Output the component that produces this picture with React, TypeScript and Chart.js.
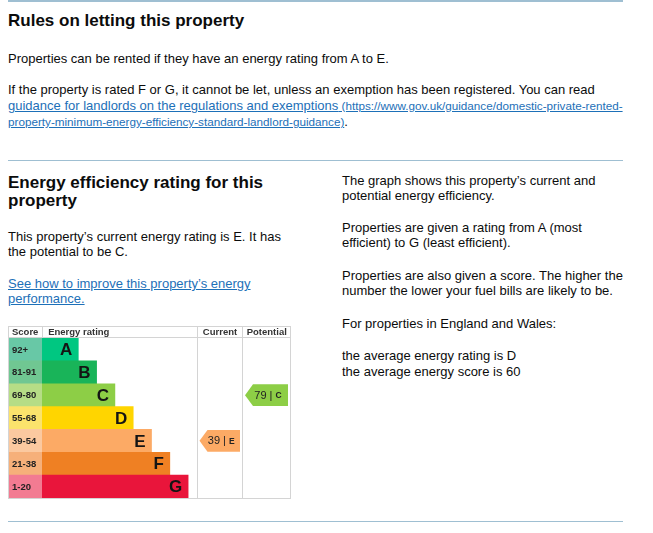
import React, { useEffect, useRef } from 'react';
import { Chart, registerables } from 'chart.js';

Chart.register(...registerables);

// ---- Data ----
const bands = ['A', 'B', 'C', 'D', 'E', 'F', 'G'];
const scoreRanges = ['92+', '81-91', '69-80', '55-68', '39-54', '21-38', '1-20'];
const barLengths = [2, 3, 4, 5, 6, 7, 8];
const barColors = ['#00c781', '#19b459', '#8dce46', '#ffd500', '#fcaa65', '#ef8023', '#e9153b'];
const scoreColors = ['#68c8a6', '#70c792', '#b6dd86', '#fbe36c', '#fbc9a0', '#f6b07a', '#f27b92'];
const headerLabels = ['Score', 'Energy rating', 'Current', 'Potential'];
const currentScore = 39;
const currentBand = 'E';
const potentialScore = 79;
const potentialBand = 'C';

// ---- Layout constants (scale units) ----
const SCORE_W = 1.84;
const CUR_START = 8.47;
const POT_START = 10.96;
const X_MAX = 13.62;

const FONT = "'Liberation Sans', Arial, Helvetica, sans-serif";
const LINK = '#1d70b8';
const TEXT = '#0b0c0c';

function EnergyChart() {
  const ref = useRef<HTMLCanvasElement | null>(null);
  useEffect(() => {
    if (!ref.current) return;
    const drawPlugin = {
      id: 'epcDecor',
      afterDatasetsDraw(chart: any) {
        const { ctx, chartArea, scales } = chart;
        const xs = scales.x;
        const ys = scales.y;
        const W = chart.width;
        const H = chart.height;
        ctx.save();
        ctx.strokeStyle = '#d4d4d4';
        ctx.lineWidth = 1;
        // outer border
        ctx.strokeRect(0.5, 0.5, W - 1, H - 1);
        // header bottom line
        ctx.beginPath();
        ctx.moveTo(0, Math.round(chartArea.top) - 0.5);
        ctx.lineTo(W, Math.round(chartArea.top) - 0.5);
        // separators
        const xSep = Math.round(xs.getPixelForValue(0)) + 0.5;
        ctx.moveTo(xSep, 0);
        ctx.lineTo(xSep, chartArea.top);
        const xCur = Math.round(xs.getPixelForValue(CUR_START)) + 0.5;
        const xPot = Math.round(xs.getPixelForValue(POT_START)) + 0.5;
        const xEnd = xs.getPixelForValue(X_MAX);
        ctx.moveTo(xCur, 0);
        ctx.lineTo(xCur, H);
        ctx.moveTo(xPot, 0);
        ctx.lineTo(xPot, H);
        ctx.stroke();

        // header labels
        const hy = chartArea.top / 2 + 0.5;
        ctx.fillStyle = '#333';
        ctx.font = `bold 9.5px ${FONT}`;
        ctx.textBaseline = 'middle';
        ctx.textAlign = 'left';
        ctx.fillText(headerLabels[0], 4, hy);
        ctx.fillText(headerLabels[1], xs.getPixelForValue(0) + 6.5, hy);
        ctx.textAlign = 'center';
        ctx.fillText(headerLabels[2], (xCur + xPot) / 2, hy);
        ctx.fillText(headerLabels[3], (xPot + xEnd) / 2, hy);

        // score range labels and band letters
        bands.forEach((b, i) => {
          const y = ys.getPixelForValue(i);
          ctx.textAlign = 'left';
          ctx.fillStyle = '#222';
          ctx.font = `bold 9.5px ${FONT}`;
          ctx.fillText(scoreRanges[i], 4, y + 0.5);
          ctx.textAlign = 'right';
          ctx.fillStyle = '#141414';
          ctx.font = `bold 17px ${FONT}`;
          ctx.fillText(b, xs.getPixelForValue(barLengths[i]) - 6, y + 1);
        });

        // arrows
        const drawArrow = (score: number, band: string, x0: number, x1: number) => {
          const i = bands.indexOf(band);
          const yc = ys.getPixelForValue(i);
          const half = (ys.getPixelForValue(1) - ys.getPixelForValue(0)) / 2 - 0.5;
          const tip = 8;
          ctx.fillStyle = barColors[i];
          ctx.beginPath();
          ctx.moveTo(x0, yc);
          ctx.lineTo(x0 + tip, yc - half);
          ctx.lineTo(x1, yc - half);
          ctx.lineTo(x1, yc + half);
          ctx.lineTo(x0 + tip, yc + half);
          ctx.closePath();
          ctx.fill();
          const parts = [
            { t: String(score), f: `11px ${FONT}` },
            { t: ' | ', f: `11px ${FONT}` },
            { t: band, f: `bold 8.5px ${FONT}` },
          ];
          let total = 0;
          parts.forEach((p) => {
            ctx.font = p.f;
            total += ctx.measureText(p.t).width;
          });
          let cx = (x0 + x1) / 2 + 1.5 - total / 2;
          ctx.textAlign = 'left';
          ctx.fillStyle = '#222';
          parts.forEach((p) => {
            ctx.font = p.f;
            ctx.fillText(p.t, cx, yc + 0.5);
            cx += ctx.measureText(p.t).width;
          });
        };
        drawArrow(currentScore, currentBand, xCur + 2, xPot - 2.5);
        drawArrow(potentialScore, potentialBand, xPot + 2.5, xEnd - 3);
        ctx.restore();
      },
    };

    const chart = new Chart(ref.current, {
      type: 'bar',
      data: {
        labels: bands,
        datasets: [
          {
            label: 'Score',
            data: bands.map(() => [-SCORE_W, 0]) as any,
            backgroundColor: scoreColors,
            borderWidth: 0,
            grouped: false,
            barPercentage: 1,
            categoryPercentage: 1,
          } as any,
          {
            label: 'Energy rating',
            data: barLengths.map((v) => [0, v]) as any,
            backgroundColor: barColors,
            borderWidth: 0,
            grouped: false,
            barPercentage: 1,
            categoryPercentage: 1,
          } as any,
        ],
      },
      options: {
        indexAxis: 'y',
        animation: false,
        responsive: false,
        maintainAspectRatio: false,
        devicePixelRatio: 1,
        layout: { padding: { top: 12, left: 0, right: 0, bottom: 1 } },
        plugins: { legend: { display: false }, tooltip: { enabled: false } },
        scales: {
          x: { type: 'linear', min: -SCORE_W, max: X_MAX, display: false },
          y: { type: 'category', display: false, offset: true, grid: { display: false } },
        },
      },
      plugins: [drawPlugin],
    });
    return () => chart.destroy();
  }, []);
  return (
    <canvas
      ref={ref}
      width={283}
      height={173}
      style={{ position: 'absolute', left: 8, top: 326, width: 283, height: 173 }}
    />
  );
}

type LineProps = { x: number; y: number; children: React.ReactNode; size?: number; bold?: boolean; color?: string; lh?: number };
function Line({ x, y, children, size = 13, bold = false, color = TEXT, lh = 16 }: LineProps) {
  return (
    <div
      style={{
        position: 'absolute',
        left: x,
        top: y,
        fontSize: size,
        lineHeight: `${lh}px`,
        fontWeight: bold ? 700 : 400,
        color,
        whiteSpace: 'nowrap',
      }}
    >
      {children}
    </div>
  );
}

const linkStyle: React.CSSProperties = { color: LINK, textDecoration: 'underline' };

function Rule({ y }: { y: number }) {
  return <div style={{ position: 'absolute', left: 8, top: y, width: 615, height: 1.5, background: '#9fbfd2' }} />;
}

export default function App() {
  return (
    <div
      style={{
        position: 'absolute',
        left: 0,
        top: 0,
        width: 653,
        height: 533,
        background: '#fff',
        fontFamily: FONT,
        overflow: 'hidden',
      }}
    >
      <Rule y={0} />
      <Line x={8} y={11} size={17} bold lh={20}>Rules on letting this property</Line>
      <Line x={8} y={51}>Properties can be rented if they have an energy rating from A to E.</Line>
      <Line x={8} y={82}>If the property is rated F or G, it cannot be let, unless an exemption has been registered. You can read</Line>
      <Line x={8} y={98}>
        <span style={linkStyle}>guidance for landlords on the regulations and exemptions</span>
        <span style={{ ...linkStyle, fontSize: 11.7 }}> (https://www.gov.uk/guidance/domestic-private-rented-</span>
      </Line>
      <Line x={8} y={114}>
        <span style={{ ...linkStyle, fontSize: 11.7 }}>property-minimum-energy-efficiency-standard-landlord-guidance)</span>
        <span>.</span>
      </Line>
      <Rule y={159.5} />

      <Line x={8} y={173} size={17} bold lh={20}>Energy efficiency rating for this</Line>
      <Line x={8} y={191} size={17} bold lh={20}>property</Line>
      <Line x={8} y={229}>This property’s current energy rating is E. It has</Line>
      <Line x={8} y={244}>the potential to be C.</Line>
      <Line x={8} y={276}><span style={linkStyle}>See how to improve this property’s energy</span></Line>
      <Line x={8} y={291}><span style={linkStyle}>performance.</span></Line>

      <Line x={342} y={173}>The graph shows this property’s current and</Line>
      <Line x={342} y={188}>potential energy efficiency.</Line>
      <Line x={342} y={220}>Properties are given a rating from A (most</Line>
      <Line x={342} y={235}>efficient) to G (least efficient).</Line>
      <Line x={342} y={268}>Properties are also given a score. The higher the</Line>
      <Line x={342} y={283}>number the lower your fuel bills are likely to be.</Line>
      <Line x={342} y={316}>For properties in England and Wales:</Line>
      <Line x={342} y={348}>the average energy rating is D</Line>
      <Line x={342} y={364}>the average energy score is 60</Line>

      <EnergyChart />
      <Rule y={520.5} />
    </div>
  );
}
